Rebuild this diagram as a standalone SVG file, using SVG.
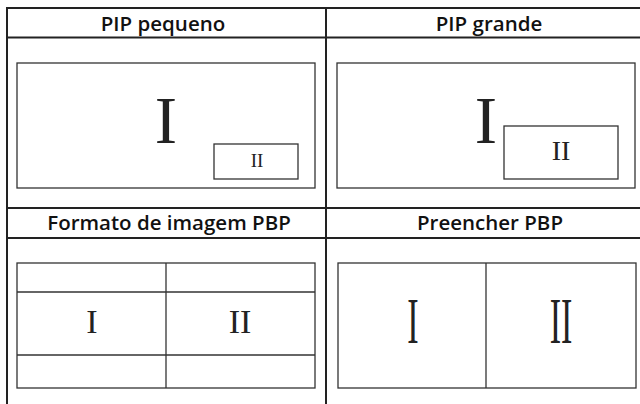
<svg xmlns="http://www.w3.org/2000/svg" width="640" height="404" viewBox="0 0 640 404">
<style>
.grid{stroke:#222;stroke-width:2;fill:none}
.box{stroke:#333;stroke-width:1.3;fill:none}
.hd{font-family:"Open Sans","Noto Sans",sans-serif;font-weight:600;font-size:20.5px;fill:#111;text-anchor:middle}
.rn{font-family:"Liberation Serif","Times New Roman",serif;fill:#222;text-anchor:middle}
</style>
<rect width="640" height="404" fill="#fff"/>
<g id="grid">
<line class="grid" x1="6" y1="8" x2="640" y2="8"/>
<line class="grid" x1="6" y1="37.5" x2="640" y2="37.5"/>
<line class="grid" x1="6" y1="208" x2="640" y2="208"/>
<line class="grid" x1="6" y1="238" x2="640" y2="238"/>
<line class="grid" x1="7" y1="7" x2="7" y2="404"/>
<line class="grid" x1="326" y1="7" x2="326" y2="404"/>
</g>
<g id="pip-pequeno">
<text class="hd" x="163" y="30.5">PIP pequeno</text>
<rect class="box" x="17" y="63" width="298" height="125"/>
<text class="rn" x="166" y="143" font-size="67">I</text>
<rect class="box" x="214" y="144" width="84" height="35"/>
<text class="rn" x="257" y="167" font-size="19">II</text>
</g>
<g id="pip-grande">
<text class="hd" x="489" y="30.5">PIP grande</text>
<rect class="box" x="337" y="63" width="298" height="125"/>
<text class="rn" x="486" y="143" font-size="67">I</text>
<rect class="box" x="504" y="126" width="114" height="53" stroke-width="1.6"/>
<text class="rn" x="561" y="160" font-size="28">II</text>
</g>
<g id="formato-pbp">
<text class="hd" x="169" y="229.5">Formato de imagem PBP</text>
<rect class="box" x="17" y="263" width="298" height="125"/>
<line class="box" x1="17" y1="292" x2="315" y2="292"/>
<line class="box" x1="17" y1="355" x2="315" y2="355"/>
<line class="box" x1="166" y1="263" x2="166" y2="388"/>
<text class="rn" x="92" y="333" font-size="34">I</text>
<text class="rn" x="240" y="333" font-size="34">II</text>
</g>
<g id="preencher-pbp">
<text class="hd" x="490" y="229.5">Preencher PBP</text>
<rect class="box" x="338" y="263" width="298" height="125"/>
<line class="box" x1="486" y1="263" x2="486" y2="388"/>
<text class="rn" font-size="34" transform="translate(413,343) scale(1,1.95)">I</text>
<text class="rn" font-size="34" transform="translate(561,343) scale(1,1.95)">II</text>
</g>
</svg>
